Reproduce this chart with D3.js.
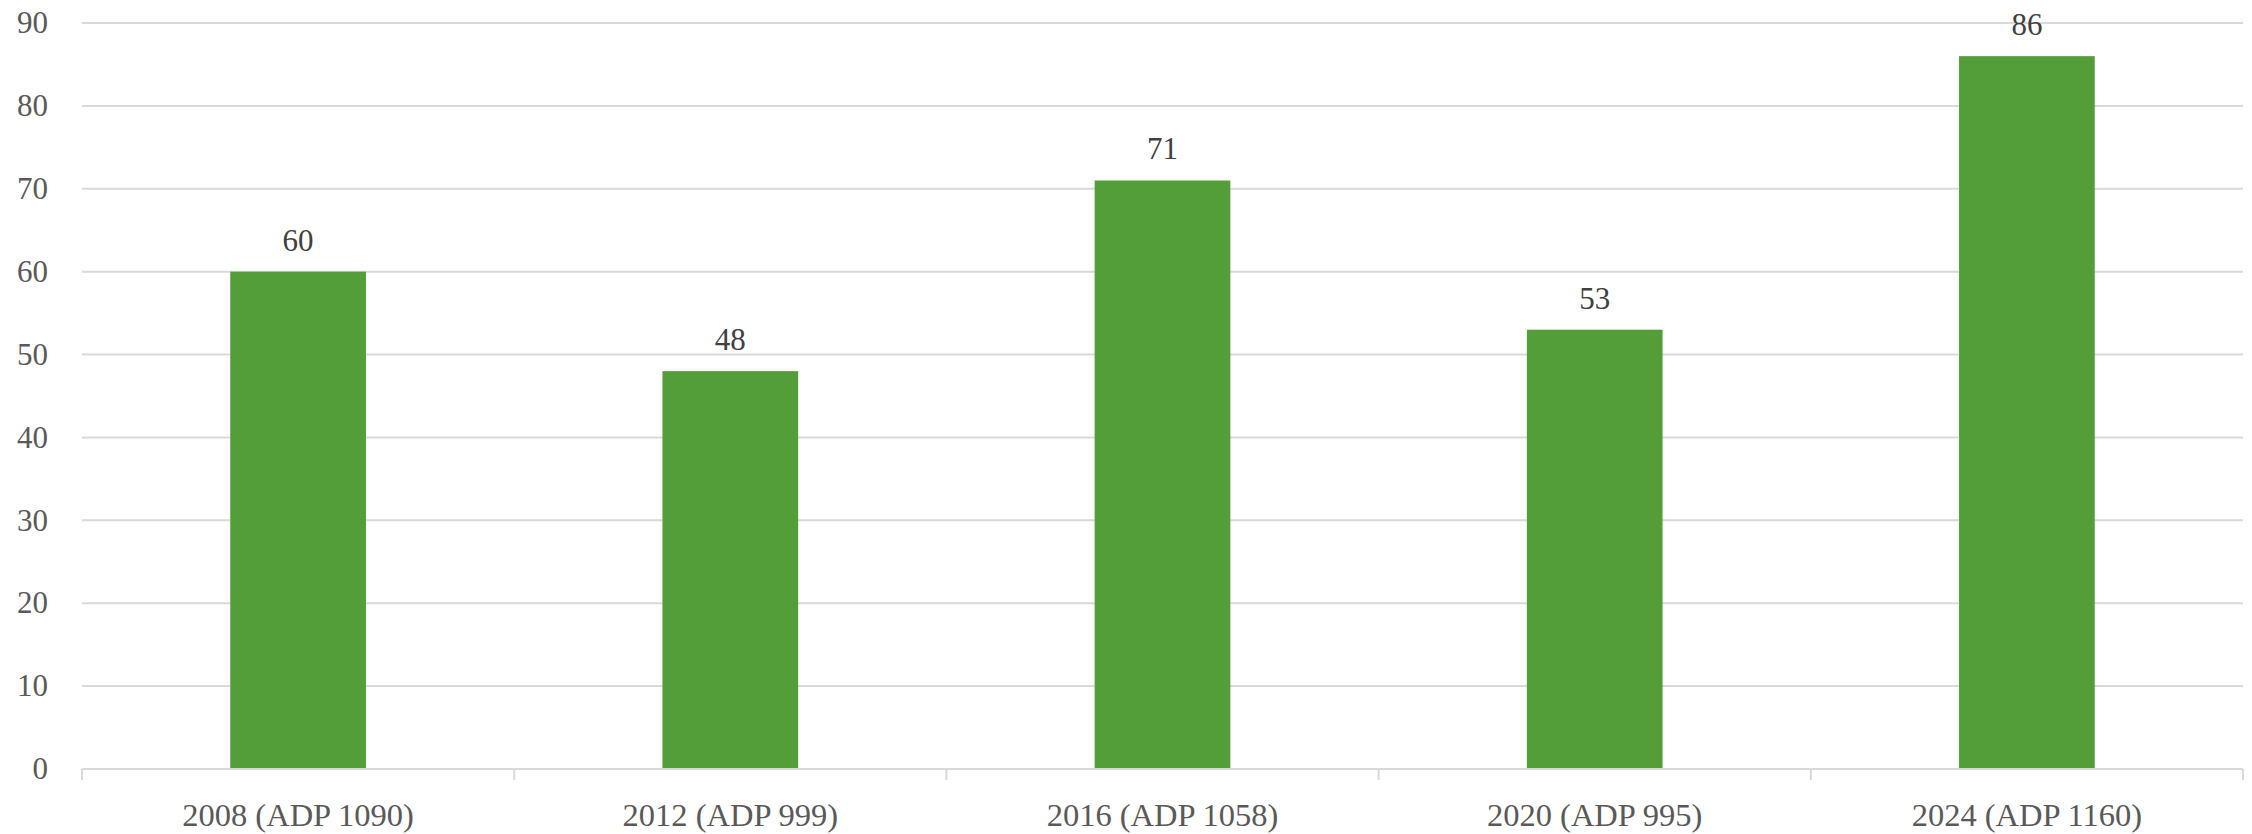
<!DOCTYPE html>
<html>
<head>
<meta charset="utf-8">
<script src="https://cdn.jsdelivr.net/npm/d3@7"></script>
<style>
  html, body { margin: 0; padding: 0; background: #ffffff; }
  svg { display: block; }
  text { font-family: "Palatino Linotype", "Book Antiqua", Palatino, "Liberation Serif", serif; }
</style>
</head>
<body>
<svg id="chart" width="2252" height="834"></svg>
<script>
const categories = ["2008 (ADP 1090)", "2012 (ADP 999)", "2016 (ADP 1058)", "2020 (ADP 995)", "2024 (ADP 1160)"];
const values = [60, 48, 71, 53, 86];
const yTicks = [0, 10, 20, 30, 40, 50, 60, 70, 80, 90];

const W = 2252, H = 834;
const margin = { left: 82, right: 9, top: 23, bottom: 65 };
const svg = d3.select("#chart");

const x = d3.scaleBand()
  .domain(categories)
  .range([margin.left, W - margin.right])
  .padding(0);

const y = d3.scaleLinear()
  .domain([0, 90])
  .range([H - margin.bottom, margin.top]);

const barRatio = 0.314;
const barW = x.bandwidth() * barRatio;

// gridlines
svg.append("g")
  .selectAll("line")
  .data(yTicks.filter(d => d !== 0))
  .join("line")
  .attr("x1", margin.left)
  .attr("x2", W - margin.right)
  .attr("y1", d => y(d))
  .attr("y2", d => y(d))
  .attr("stroke", "#d9d9d9")
  .attr("stroke-width", 2);

// y labels
svg.append("g")
  .selectAll("text")
  .data(yTicks)
  .join("text")
  .attr("x", 48)
  .attr("y", d => y(d))
  .attr("dy", "0.33em")
  .attr("text-anchor", "end")
  .attr("font-size", 31)
  .attr("fill", "#595959")
  .text(d => d);

// bars
svg.append("g")
  .selectAll("rect")
  .data(values)
  .join("rect")
  .attr("x", (d, i) => x(categories[i]) + (x.bandwidth() - barW) / 2)
  .attr("y", d => y(d))
  .attr("width", barW)
  .attr("height", d => y(0) - y(d))
  .attr("fill", "#549e39");

// data labels
svg.append("g")
  .selectAll("text")
  .data(values)
  .join("text")
  .attr("x", (d, i) => x(categories[i]) + x.bandwidth() / 2)
  .attr("y", d => y(d) - 21)
  .attr("text-anchor", "middle")
  .attr("font-size", 31)
  .attr("fill", "#404040")
  .text(d => d);

// x axis
const xAxis = d3.axisBottom(x).tickSize(0).tickPadding(0);
const gx = svg.append("g")
  .attr("transform", `translate(0,${y(0)})`)
  .call(xAxis);
gx.select(".domain").attr("stroke", "#d9d9d9").attr("stroke-width", 2).attr("d", `M${margin.left},0H${W - margin.right}`);
gx.selectAll(".tick text").remove();
gx.selectAll(".tick line").remove();

// boundary ticks
const boundaries = categories.map(c => x(c)).concat([W - margin.right]);
svg.append("g")
  .selectAll("line")
  .data(boundaries)
  .join("line")
  .attr("x1", d => d)
  .attr("x2", d => d)
  .attr("y1", y(0))
  .attr("y2", y(0) + 11)
  .attr("stroke", "#d9d9d9")
  .attr("stroke-width", 2);

// category labels
svg.append("g")
  .selectAll("text")
  .data(categories)
  .join("text")
  .attr("x", d => x(d) + x.bandwidth() / 2)
  .attr("y", y(0) + 57)
  .attr("text-anchor", "middle")
  .attr("font-size", 32.5)
  .attr("fill", "#595959")
  .text(d => d);
</script>
</body>
</html>
